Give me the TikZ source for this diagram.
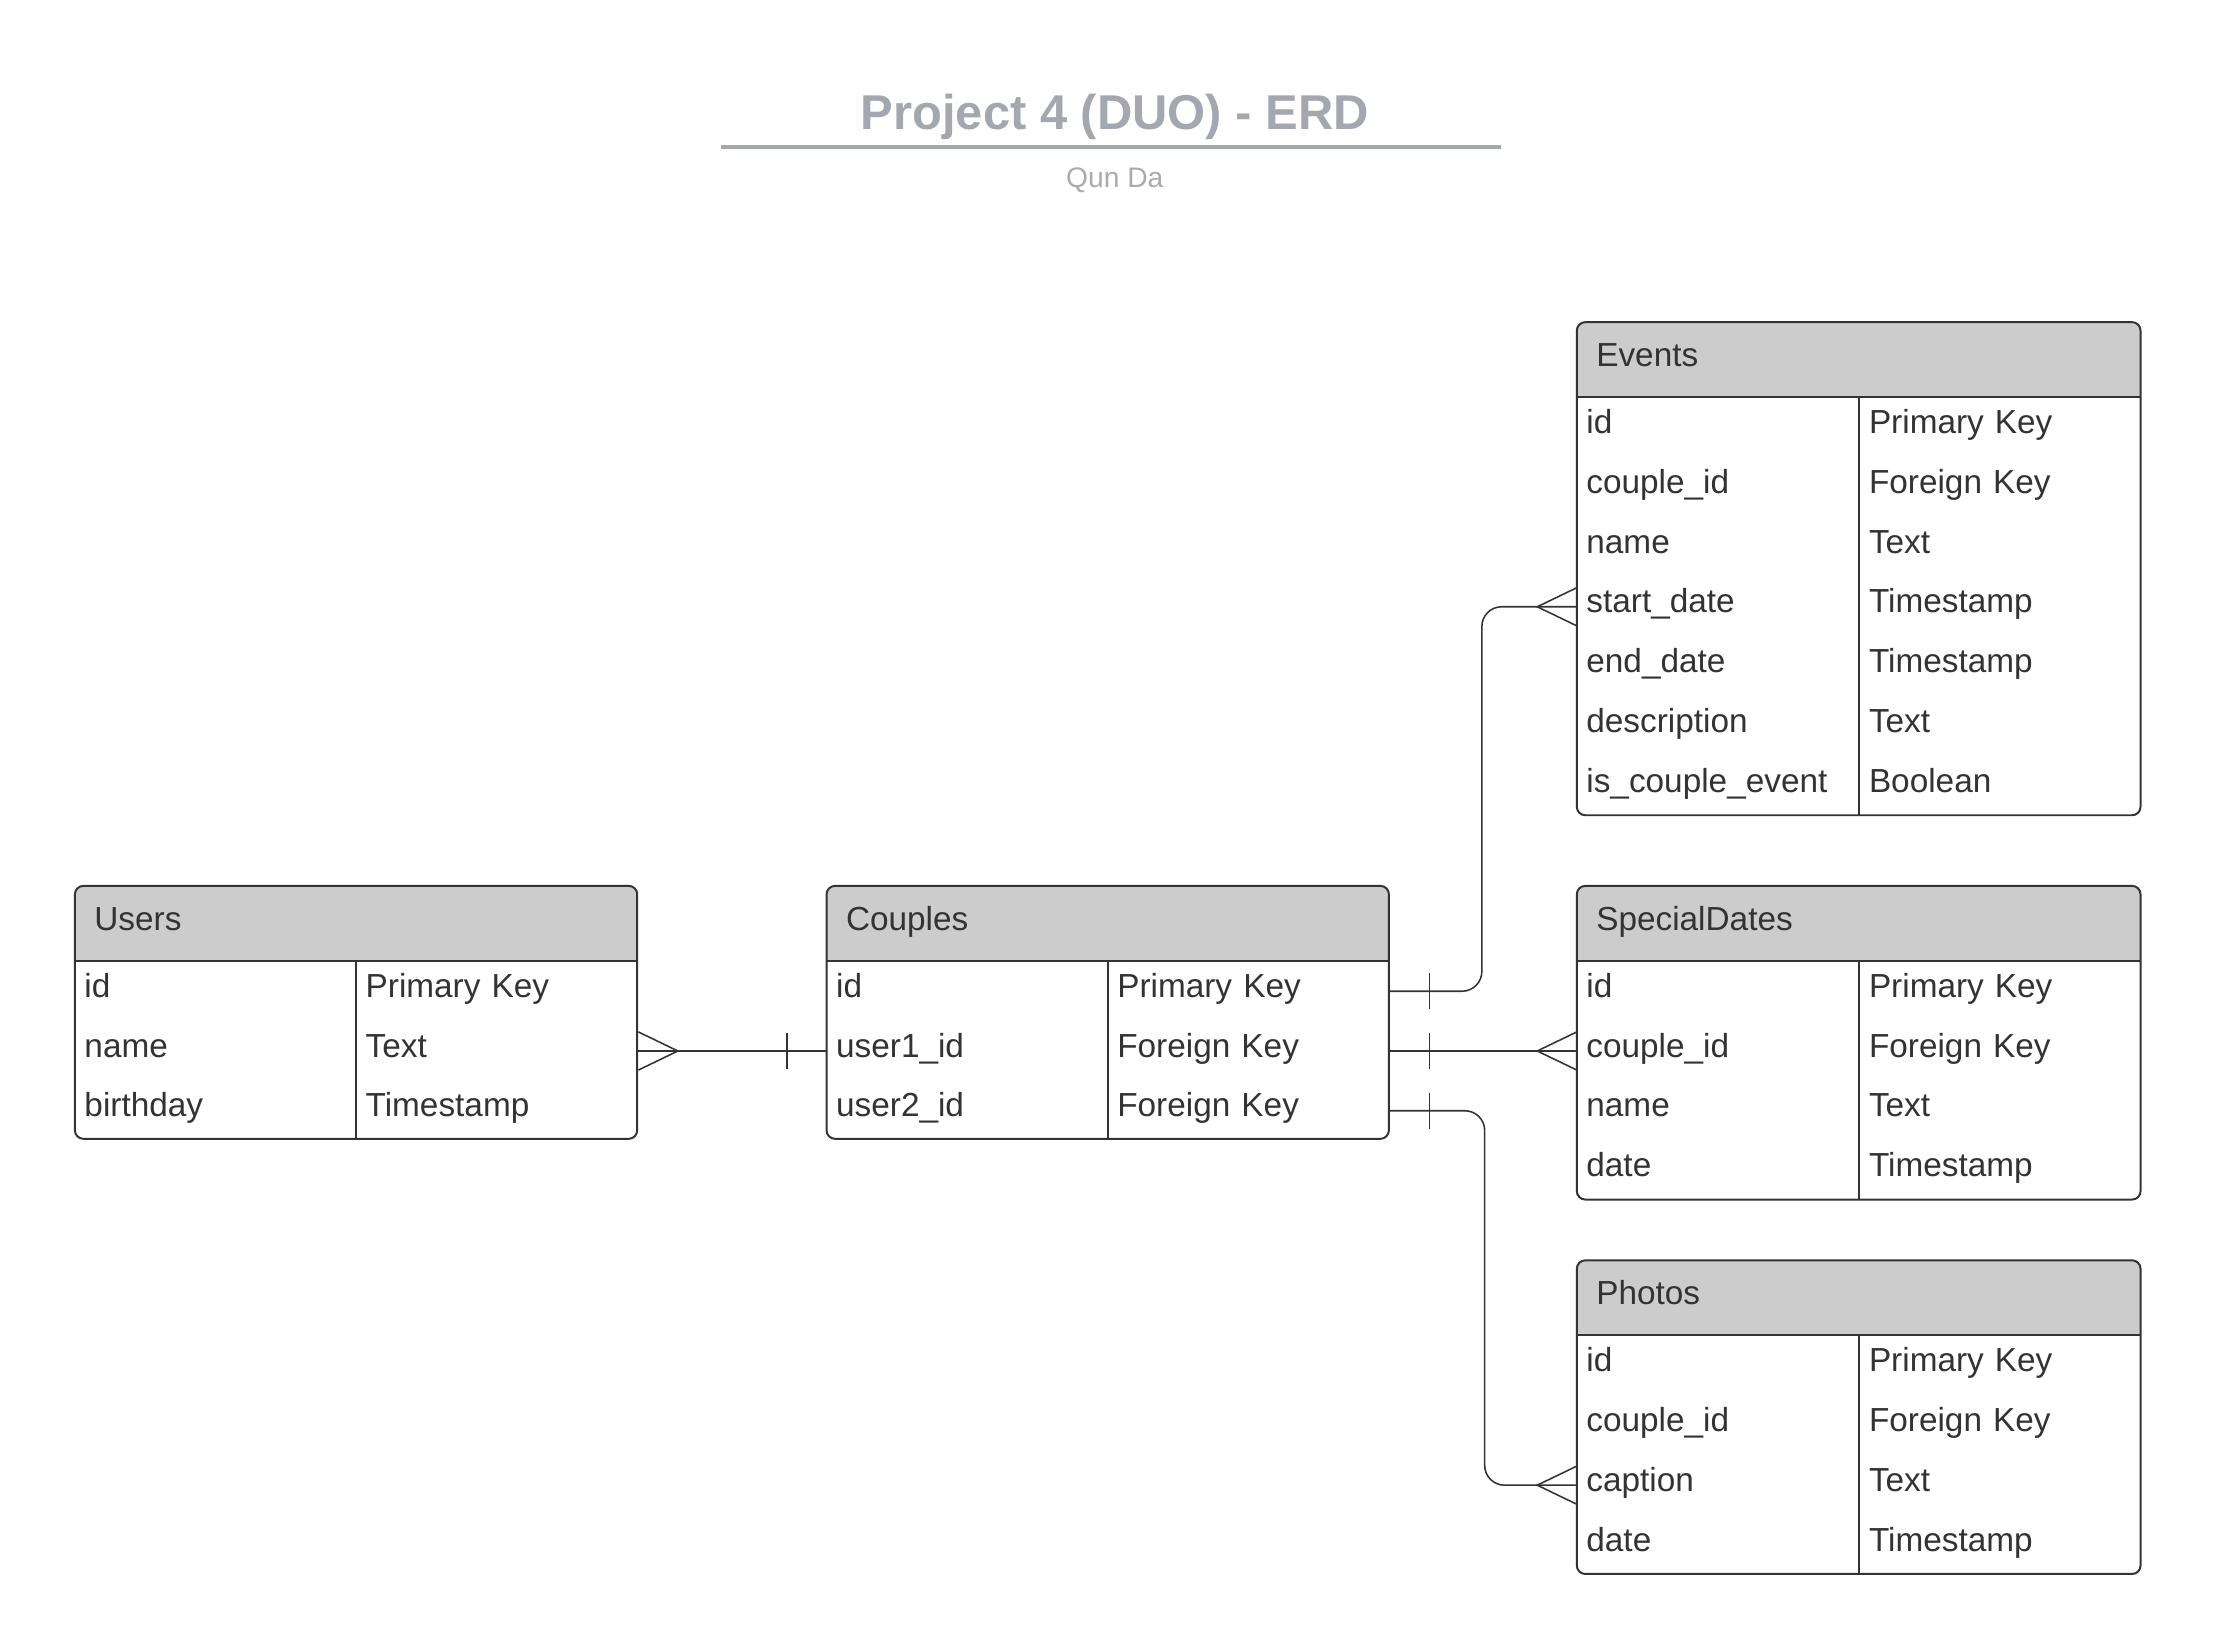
\documentclass[tikz,border=0pt]{standalone}
\usepackage{fontspec}
\setmainfont{Liberation Sans}
\usetikzlibrary{calc}
\definecolor{ink}{HTML}{333333}
\definecolor{headfill}{HTML}{CCCCCC}
\definecolor{titlegray}{RGB}{163,167,176}
\definecolor{subgray}{RGB}{170,171,176}
\newcommand{\cellfont}{\fontsize{11.8}{14}\selectfont}
\tikzset{
  cell/.style={rectangle, anchor=north west, inner xsep=3.2pt, inner ysep=0pt,
    text width=93.1pt, align=left, minimum height=21.15pt,
    text height=8.4pt, text depth=4pt, text=ink, font=\cellfont},
  headcell/.style={rectangle, anchor=north west, fill=headfill, inner xsep=6.7pt,
    inner ysep=0pt, text width=190pt, align=left, minimum height=26.5pt,
    text height=8.4pt, text depth=4pt, text=ink, font=\cellfont},
  frame/.style={draw=ink, line width=0.7pt, rounded corners=3pt},
  rule/.style={draw=ink, line width=0.7pt},
  link/.style={draw=ink, line width=0.55pt},
}
\begin{document}
\begin{tikzpicture}[x=0.5pt, y=-0.5pt]
  \useasboundingbox (0,0) rectangle (1567,1167);

  % title
  \node[font=\bfseries\fontsize{17.3}{20}\selectfont, text=titlegray, anchor=base]
    (title) at (789,92) {Project 4 (DUO) - ERD};
  \draw[titlegray, line width=1.2pt] (510,104) -- (1062,104);
  \node[font=\fontsize{10}{12}\selectfont, text=subgray, anchor=base]
    (author) at (789,133) {Qun Da};

  % Users
  \begin{scope}
    \clip[rounded corners=3pt] (53,627) rectangle (451,806);
    \node[headcell] (usr) at (53,627) {Users};
  \end{scope}
  \foreach \fname/\ftype [count=\i] in {id/Primary Key, name/Text, birthday/Timestamp}
  {
    \node[cell] (usr-\i) at (53,{680+42.3*(\i-1)}) {\fname};
    \node[cell] (usr-\i-t) at (252,{680+42.3*(\i-1)}) {\ftype};
  }
  \draw[frame] (53,627) rectangle (451,806);
  \draw[rule] (53,680) -- (451,680) (252,680) -- (252,806);

  % Couples
  \begin{scope}
    \clip[rounded corners=3pt] (585,627) rectangle (983,806);
    \node[headcell] (cpl) at (585,627) {Couples};
  \end{scope}
  \foreach \fname/\ftype [count=\i] in {id/Primary Key, user1\_id/Foreign Key,
      user2\_id/Foreign Key}
  {
    \node[cell] (cpl-\i) at (585,{680+42.3*(\i-1)}) {\fname};
    \node[cell] (cpl-\i-t) at (784,{680+42.3*(\i-1)}) {\ftype};
  }
  \draw[frame] (585,627) rectangle (983,806);
  \draw[rule] (585,680) -- (983,680) (784,680) -- (784,806);

  % Events
  \begin{scope}
    \clip[rounded corners=3pt] (1116,228) rectangle (1515,577);
    \node[headcell] (evt) at (1116,228) {Events};
  \end{scope}
  \foreach \fname/\ftype [count=\i] in {id/Primary Key, couple\_id/Foreign Key,
      name/Text, start\_date/Timestamp, end\_date/Timestamp, description/Text,
      is\_couple\_event/Boolean}
  {
    \node[cell] (evt-\i) at (1116,{281+42.3*(\i-1)}) {\fname};
    \node[cell] (evt-\i-t) at (1316,{281+42.3*(\i-1)}) {\ftype};
  }
  \draw[frame] (1116,228) rectangle (1515,577);
  \draw[rule] (1116,281) -- (1515,281) (1316,281) -- (1316,577);

  % SpecialDates
  \begin{scope}
    \clip[rounded corners=3pt] (1116,627) rectangle (1515,849);
    \node[headcell] (spd) at (1116,627) {SpecialDates};
  \end{scope}
  \foreach \fname/\ftype [count=\i] in {id/Primary Key, couple\_id/Foreign Key,
      name/Text, date/Timestamp}
  {
    \node[cell] (spd-\i) at (1116,{680+42.3*(\i-1)}) {\fname};
    \node[cell] (spd-\i-t) at (1316,{680+42.3*(\i-1)}) {\ftype};
  }
  \draw[frame] (1116,627) rectangle (1515,849);
  \draw[rule] (1116,680) -- (1515,680) (1316,680) -- (1316,849);

  % Photos
  \begin{scope}
    \clip[rounded corners=3pt] (1116,892) rectangle (1515,1114);
    \node[headcell] (pho) at (1116,892) {Photos};
  \end{scope}
  \foreach \fname/\ftype [count=\i] in {id/Primary Key, couple\_id/Foreign Key,
      caption/Text, date/Timestamp}
  {
    \node[cell] (pho-\i) at (1116,{945+42.3*(\i-1)}) {\fname};
    \node[cell] (pho-\i-t) at (1316,{945+42.3*(\i-1)}) {\ftype};
  }
  \draw[frame] (1116,892) rectangle (1515,1114);
  \draw[rule] (1116,945) -- (1515,945) (1316,945) -- (1316,1114);

  % relations
  \draw[link] (usr-2-t.east) -- (cpl-2.west);
  \draw[link] ($(usr-2-t.east)+(0,13.5)$) -- ($(usr-2-t.east)+(28,0)$)
    -- ($(usr-2-t.east)+(0,-13.5)$);
  \draw[link] ($(cpl-2.west)+(-28,-12.75)$) -- ++(0,25.5);

  \draw[link, rounded corners=7pt] (cpl-1-t.east) -- ++(65,0) |- (evt-4.west);
  \draw[link] ($(cpl-1-t.east)+(28,-12.75)$) -- ++(0,25.5);
  \draw[link] ($(evt-4.west)+(0,13.5)$) -- ($(evt-4.west)+(-28,0)$)
    -- ($(evt-4.west)+(0,-13.5)$);

  \draw[link] (cpl-2-t.east) -- (spd-2.west);
  \draw[link] ($(cpl-2-t.east)+(28,-12.75)$) -- ++(0,25.5);
  \draw[link] ($(spd-2.west)+(0,13.5)$) -- ($(spd-2.west)+(-28,0)$)
    -- ($(spd-2.west)+(0,-13.5)$);

  \draw[link, rounded corners=7pt] (cpl-3-t.east) -- ++(67,0) |- (pho-3.west);
  \draw[link] ($(cpl-3-t.east)+(28,-12.75)$) -- ++(0,25.5);
  \draw[link] ($(pho-3.west)+(0,13.5)$) -- ($(pho-3.west)+(-28,0)$)
    -- ($(pho-3.west)+(0,-13.5)$);
\end{tikzpicture}
\end{document}
